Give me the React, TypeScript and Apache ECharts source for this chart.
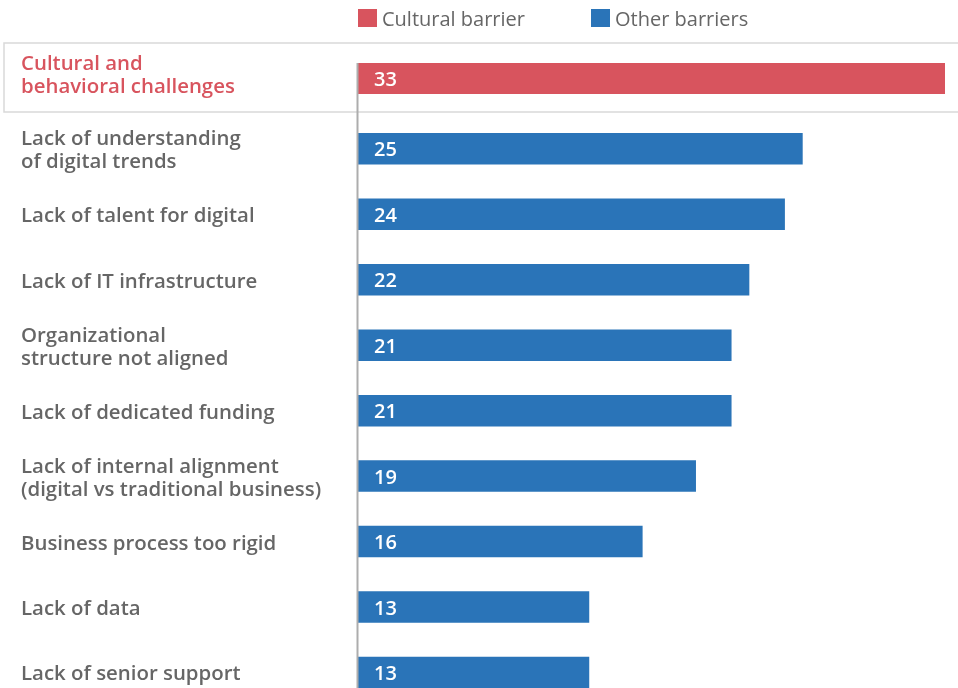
import React, { useEffect, useRef } from "react";
import * as echarts from "echarts";

const legendNames = ["Cultural barrier", "Other barriers"];
const highlightCategory = ["Cultural and\nbehavioral challenges"];
const highlightValue = [33];
const otherCategories = [
  "Lack of understanding\nof digital trends",
  "Lack of talent for digital",
  "Lack of IT infrastructure",
  "Organizational\nstructure not aligned",
  "Lack of dedicated funding",
  "Lack of internal alignment\n(digital vs traditional business)",
  "Business process too rigid",
  "Lack of data",
  "Lack of senior support",
];
const otherValues = [25, 24, 22, 21, 21, 19, 16, 13, 13];

const RED = "#d8545e";
const BLUE = "#2a74b8";
const GREY = "#666666";
const FONT = "Open Sans";

export default function App() {
  const ref = useRef<HTMLDivElement>(null);
  useEffect(() => {
    if (!ref.current) return;
    const chart = echarts.init(ref.current, undefined, { renderer: "svg" });
    const left = 358;
    const right = 13;
    const labelMargin = left - 21;
    const valueLabel = {
      show: true,
      position: "insideLeft" as const,
      distance: 16,
      color: "#ffffff",
      fontFamily: FONT,
      fontWeight: 600 as any,
      fontSize: 20,
    };
    chart.setOption({
      animation: false,
      legend: {
        data: legendNames,
        left: 358,
        top: 8,
        padding: 0,
        itemWidth: 19,
        itemHeight: 18,
        itemGap: 66,
        icon: "rect",
        textStyle: { color: GREY, fontFamily: FONT, fontSize: 20 },
      },
      graphic: [
        {
          type: "rect",
          shape: { x: 4, y: 43, width: 970, height: 69 },
          style: { fill: "none", stroke: "#d9d9d9", lineWidth: 1.5 },
          z: -1,
        },
        {
          type: "line",
          shape: { x1: 357.5, y1: 63, x2: 357.5, y2: 720 },
          style: { stroke: "#adadad", lineWidth: 2 },
          z: 100,
        },
      ],
      grid: [
        { left, right, top: 63, height: 31 },
        { left, right, top: 116.1, height: 589.1 },
      ],
      xAxis: [
        { type: "value", gridIndex: 0, min: 0, max: 33, show: false },
        { type: "value", gridIndex: 1, min: 0, max: 33, show: false },
      ],
      yAxis: [
        {
          type: "category",
          gridIndex: 0,
          data: highlightCategory,
          axisLine: { show: false },
          axisTick: { show: false },
          axisLabel: {
            align: "left",
            margin: labelMargin,
            color: RED,
            fontFamily: FONT,
            fontWeight: 600,
            fontSize: 20.4,
            lineHeight: 23,
            formatter: (v: string) => v + "\n{s| }",
            rich: { s: { fontSize: 2, lineHeight: 10 } },
          },
        },
        {
          type: "category",
          gridIndex: 1,
          inverse: true,
          data: otherCategories,
          axisLine: { show: false },
          axisTick: { show: false },
          axisLabel: {
            align: "left",
            margin: labelMargin,
            color: GREY,
            fontFamily: FONT,
            fontWeight: 600,
            fontSize: 20.4,
            lineHeight: 23,
          },
        },
      ],
      series: [
        {
          name: legendNames[0],
          type: "bar",
          xAxisIndex: 0,
          yAxisIndex: 0,
          data: highlightValue,
          barWidth: 31.5,
          itemStyle: { color: RED },
          label: valueLabel,
        },
        {
          name: legendNames[1],
          type: "bar",
          xAxisIndex: 1,
          yAxisIndex: 1,
          data: otherValues,
          barWidth: 31.5,
          itemStyle: { color: BLUE },
          label: valueLabel,
        },
      ],
    });
    return () => chart.dispose();
  }, []);
  return (
    <div
      ref={ref}
      style={{ position: "fixed", left: 0, top: 0, width: 958, height: 720 }}
    />
  );
}
